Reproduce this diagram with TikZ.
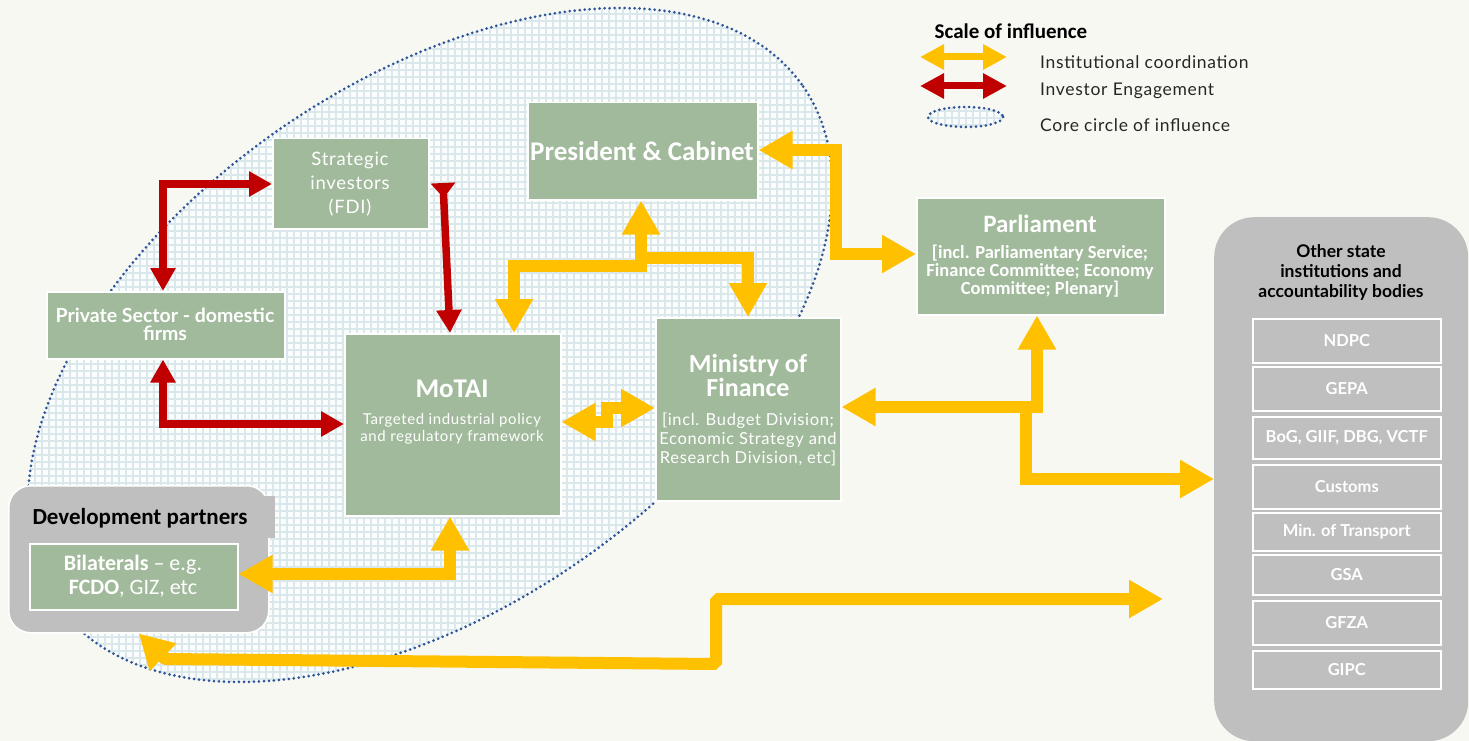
\documentclass[tikz,border=0pt]{standalone}
\usepackage{fontspec}
\setmainfont{Lato}
\newfontfamily\calfont{Carlito}
\newfontfamily\wfont[LetterSpace=4]{Lato}
\usetikzlibrary{arrows.meta,calc}
\definecolor{bg}{HTML}{F8F8F3}
\definecolor{grn}{HTML}{A2BA9C}
\definecolor{gry}{HTML}{BFBFBF}
\definecolor{yel}{HTML}{FFC000}
\definecolor{rd}{HTML}{C00000}
\definecolor{dotb}{HTML}{2F5597}
\definecolor{gridc}{HTML}{DAE8EC}
\definecolor{cellc}{HTML}{FBFCFC}
\definecolor{txt}{HTML}{262626}
\newcommand{\fs}[2]{\fontsize{#1}{#2}\selectfont}
\begin{document}
\begin{tikzpicture}[x=1pt,y=-1pt,
 gbox/.style={draw=white, line width=1.5pt, fill=grn, inner sep=0pt, anchor=north west},
 obox/.style={draw=white, line width=1.5pt, fill=gry, inner sep=0pt, anchor=north west, minimum width=188pt},
 wt/.style={text=white, align=center, inner sep=0pt},
 olab/.style={text=white, inner sep=0pt, font=\fs{16.5}{17}\bfseries},
 yarr/.style={draw=yel, line width=12pt, line join=miter},
 rarr/.style={draw=rd, line width=7.5pt, line join=miter},
 yboth/.style={yarr, {Triangle[length=34pt,width=36pt]}-{Triangle[length=34pt,width=36pt]}},
 yend/.style={yarr, -{Triangle[length=34pt,width=36pt]}},
 rboth/.style={rarr, {Triangle[length=23pt,width=24pt]}-{Triangle[length=23pt,width=24pt]}},
 dotline/.style={draw=dotb, line width=3pt, line cap=round, dash pattern=on 0pt off 5pt},
 gridl/.style={draw=gridc, line width=1.8pt},
 ]
\useasboundingbox (0,0) rectangle (1469,741);
\fill[bg] (0,0) rectangle (1469,741);

% core circle of influence
\fill[cellc, shift={(430,345)}, rotate=34.7] (0,0) ellipse [x radius=454, y radius=263];
\begin{scope}
\clip[shift={(430,345)}, rotate=34.7] (0,0) ellipse [x radius=454, y radius=263];
\foreach \i in {0,7,...,900} {\draw[gridl] (\i,0) -- (\i,741);}
\foreach \j in {0,7,...,741} {\draw[gridl] (0,\j) -- (900,\j);}
\end{scope}
\draw[dotline, shift={(430,345)}, rotate=34.7] (0,0) ellipse [x radius=454, y radius=263];

% legend
\node[font=\calfont\fs{21}{24}\bfseries, text=black, inner sep=0pt] (legt) at (1011,31) {Scale of influence};
\coordinate (ly1) at (920,57); \coordinate (ly2) at (1007,57);
\coordinate (lr1) at (920,86); \coordinate (lr2) at (1007,86);
\draw[draw=yel, line width=7pt, {Triangle[length=24pt,width=24pt]}-{Triangle[length=24pt,width=24pt]}] (ly1) -- (ly2);
\draw[draw=rd, line width=7pt, {Triangle[length=24pt,width=24pt]}-{Triangle[length=24pt,width=24pt]}] (lr1) -- (lr2);
\fill[cellc] (965.5,117) ellipse [x radius=37.5, y radius=10];
\begin{scope}
\clip (965.5,117) ellipse [x radius=37.5, y radius=10];
\foreach \i in {924,931,...,1010} {\draw[gridl] (\i,100) -- (\i,135);}
\foreach \j in {104,111,...,135} {\draw[gridl] (920,\j) -- (1010,\j);}
\end{scope}
\draw[dotline] (965.5,117) ellipse [x radius=37.5, y radius=10];
\node[font=\wfont\fs{17.5}{20}, text=txt, anchor=west, inner sep=0pt] (leg1) at (1040,62) {Institutional coordination};
\node[font=\wfont\fs{17.5}{20}, text=txt, anchor=west, inner sep=0pt] (leg2) at (1040,91) {Investor Engagement};
\node[font=\wfont\fs{17.5}{20}, text=txt, anchor=west, inner sep=0pt] (leg3) at (1040,125) {Core circle of influence};

% boxes
\node[gbox, minimum width=156pt, minimum height=90pt] (si) at (272,138) {};
\node[wt, font=\wfont\fs{18.5}{24}] (sit) at (350,184) {Strategic\\investors\\(FDI)};

\node[gbox, minimum width=230pt, minimum height=97pt] (pres) at (527,102) {};
\node[wt, font=\calfont\fs{27}{30}\bfseries] (prest) at (642,151) {President \& Cabinet};

\node[gbox, minimum width=248pt, minimum height=117pt] (parl) at (916,197) {};
\node[wt, font=\calfont\fs{25}{26}\bfseries] (parlt) at (1040,224) {Parliament};
\node[wt, font=\calfont\fs{18.5}{18}\bfseries] (parls) at (1040,271) {[incl. Parliamentary Service;\\Finance Committee; Economy\\Committee; Plenary]};

\node[gbox, minimum width=238pt, minimum height=67pt] (ps) at (46,291) {};
\node[wt, font=\fs{19.5}{18}\bfseries] (pst) at (165,324) {Private Sector - domestic\\firms};

\node[gbox, minimum width=216pt, minimum height=182pt] (motai) at (344,333) {};
\node[wt, font=\calfont\fs{27}{30}\bfseries] (motait) at (452,389) {MoTAI};
\node[wt, font=\wfont\fs{15}{17}] (motais) at (452,428.5) {Targeted industrial policy\\and regulatory framework};

\node[gbox, minimum width=185pt, minimum height=183pt] (mof) at (655,317) {};
\node[wt, font=\calfont\fs{26}{24}\bfseries] (moft) at (748,375) {Ministry of\\Finance};
\node[wt, font=\wfont\fs{16.5}{19}] (mofs) at (748,439.5) {[incl. Budget Division;\\Economic Strategy and\\Research Division, etc]};

% development partners
\node[draw=white, line width=1.5pt, fill=gry, rounded corners=22pt, inner sep=0pt, anchor=north west, minimum width=260pt, minimum height=147pt] (dp) at (8,485) {};
\fill[gry] (255,496) rectangle (275,538);
\node[font=\calfont\fs{23}{24}\bfseries, text=black, inner sep=0pt] (dpt) at (140,518) {Development partners};
\node[gbox, minimum width=208pt, minimum height=66pt] (bil) at (29,543) {};
\node[wt, font=\calfont\fs{22}{24}] (bilt) at (133,576) {\textbf{Bilaterals} – e.g.\\\textbf{FCDO}, GIZ, etc};

% other state institutions
\node[fill=gry, rounded corners=40pt, inner sep=0pt, anchor=north west, minimum width=254pt, minimum height=524pt] (os) at (1214,217) {};
\node[font=\fs{17.5}{20}\bfseries, text=black, align=center, inner sep=0pt] (ost) at (1341,272) {Other state\\institutions and\\accountability bodies};
\node[obox, minimum height=44pt] (o1) at (1252,318) {}; \node[olab] (o1t) at (o1.center) {NDPC};
\node[obox, minimum height=44pt] (o2) at (1252,366) {}; \node[olab] (o2t) at (o2.center) {GEPA};
\node[obox, minimum height=42pt] (o3) at (1252,416) {}; \node[olab] (o3t) at (o3.center) {BoG, GIIF, DBG, VCTF};
\node[obox, minimum height=44pt] (o4) at (1252,464) {}; \node[olab] (o4t) at (o4.center) {Customs};
\node[obox, minimum height=38pt] (o5) at (1252,512) {}; \node[olab] (o5t) at (o5.center) {Min. of Transport};
\node[obox, minimum height=40pt] (o6) at (1252,554) {}; \node[olab] (o6t) at (o6.center) {GSA};
\node[obox, minimum height=44pt] (o7) at (1252,600) {}; \node[olab] (o7t) at (o7.center) {GFZA};
\node[obox, minimum height=38pt] (o8) at (1252,650) {}; \node[olab] (o8t) at (o8.center) {GIPC};

% red connectors
\draw[rboth] (163,0 |- ps.north) -- (163,184) -- (si.west |- 0,184);
\draw[rboth] (163,0 |- ps.south) -- (163,424) -- (motai.west |- 0,424);
\draw[rarr, {Triangle[reversed,length=15pt,width=24pt]}-{Triangle[length=23pt,width=24pt]}] (443,183) -- (450,0 |- motai.north);

% yellow connectors
\draw[yboth] (pres.east |- 0,150) -- (836,150) -- (836,254) -- (parl.west |- 0,254);
\draw[yboth] (514,0 |- motai.north) -- (514,266) -- (641,266) -- (641,0 |- pres.south);
\draw[yend] (641,258) -- (748,258) -- (748,0 |- mof.north);
\draw[yboth] (motai.east |- 0,422) -- (607,422) -- (607,408) -- (mof.west |- 0,408);
\draw[yboth] (bil.east |- 0,574) -- (450,574) -- (450,0 |- motai.south);
\draw[yboth] (mof.east |- 0,407) -- (1037,407) -- (1037,0 |- parl.south);
\draw[yend] (1026,407) -- (1026,479) -- (os.west |- 0,479);
\coordinate (osin) at (1163,599);
\draw[yboth, line join=bevel] (dp.south) -- (165,659) -- (716,664) -- (716,599) -- (osin);
\end{tikzpicture}
\end{document}
